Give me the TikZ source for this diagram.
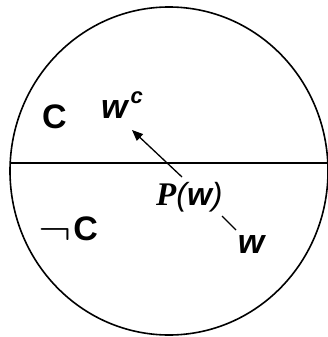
\documentclass[tikz,border=0pt]{standalone}
\usepackage{fontspec}
\usepackage{graphicx}
\usetikzlibrary{arrows.meta, positioning}
\newfontfamily\lblfont{Liberation Sans}
\newfontfamily\pfont{Liberation Serif}

\begin{document}
\begin{tikzpicture}[x=1pt, y=-1pt, >=Triangle,
    lbl/.style={font=\lblfont\bfseries\fontsize{34}{36}\selectfont, inner sep=0pt},
    wlbl/.style={font=\lblfont\bfseries\itshape\fontsize{34}{36}\selectfont, inner sep=0pt}]
    \useasboundingbox (0,0) rectangle (328,337);

    % circle and dividing line
    \draw[line width=1.6pt] (169,171) ellipse [x radius=159, y radius=164];
    \draw[line width=2.2pt] (10,163) -- (328,163);

    % labels
    \node[lbl, anchor=base west] (cls) at (42,128) {C};
    \node[lbl, anchor=base west] (notcls) at (38,240)
      {\raisebox{-4pt}{\scalebox{2.0}[1.8]{$\neg$}}\hspace{2pt}C};
    \node[wlbl, anchor=base west] (wc) at (101,118)
      {w\hspace{3pt}\raisebox{15pt}{\fontsize{22}{24}\selectfont c}};
    \node[inner sep=0pt, anchor=base west] (pw) at (156,205)
      {\pfont\bfseries\itshape\fontsize{33}{35}\selectfont P%
       \lblfont\mdseries\itshape\fontsize{32}{34}\selectfont(%
       \bfseries\itshape\fontsize{32}{34}\selectfont w%
       \mdseries\itshape\fontsize{32}{34}\selectfont)};
    \node[wlbl, anchor=base] (w) at (251,253) {w};

    % connectors
    \coordinate (tail) at (182,177);
    \coordinate (head) at (132,130);
    \draw[line width=1.3pt, -{Triangle[length=11pt, width=9pt]}] (tail) -- (head);
    \coordinate (wtop) at (236,230);
    \coordinate (pwend) at (222,216);
    \draw[line width=1.3pt] (wtop) -- (pwend);
\end{tikzpicture}
\end{document}
